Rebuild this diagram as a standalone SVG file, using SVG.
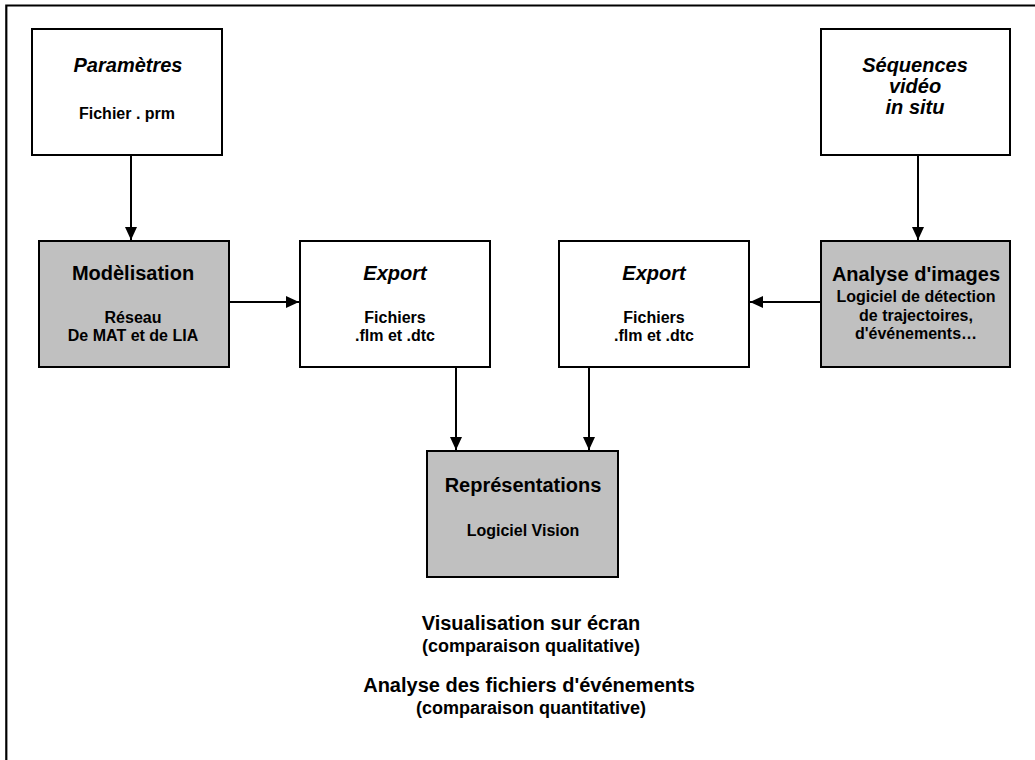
<svg xmlns="http://www.w3.org/2000/svg" width="1035" height="760" viewBox="0 0 1035 760">
<style>
.box{fill:#fff;stroke:#000;stroke-width:2}
.grey{fill:#c0c0c0;stroke:#000;stroke-width:2}
text{font-family:"Liberation Sans",Arial,sans-serif;font-weight:bold;text-anchor:middle;fill:#000}
.t{font-size:20px}
.s{font-size:16px}
.m{font-size:18px}
.i{font-style:italic}
.c{fill:none;stroke:#000;stroke-width:2}
</style>
<defs>
<marker id="ah" markerUnits="userSpaceOnUse" markerWidth="13" markerHeight="12" refX="13" refY="6" orient="auto">
<path d="M0,0 L13,6 L0,12 Z" fill="#000"/>
</marker>
</defs>
<rect width="1035" height="760" fill="#fff"/>
<path d="M6.3,760 V5.5 H1035" fill="none" stroke="#000" stroke-width="2.2"/>

<g id="parametres">
<rect class="box" x="32" y="29" width="190" height="126"/>
<text class="t i" x="128" y="72">Paramètres</text>
<text class="s" x="127" y="119">Fichier . prm</text>
</g>
<g id="sequences">
<rect class="box" x="821" y="29" width="189" height="126"/>
<text class="t i" x="915" y="72">Séquences</text>
<text class="t i" x="915" y="93">vidéo</text>
<text class="t i" x="915" y="114">in situ</text>
</g>
<g id="modelisation">
<rect class="grey" x="39" y="241" width="190" height="126"/>
<text class="t" x="133" y="280">Modèlisation</text>
<text class="s" x="133" y="323">Réseau</text>
<text class="s" x="133" y="341">De MAT et de LIA</text>
</g>
<g id="export1">
<rect class="box" x="300" y="241" width="190" height="126"/>
<text class="t i" x="395" y="280">Export</text>
<text class="s" x="395" y="323">Fichiers</text>
<text class="s" x="395" y="341">.flm et .dtc</text>
</g>
<g id="export2">
<rect class="box" x="559" y="241" width="190" height="126"/>
<text class="t i" x="654" y="280">Export</text>
<text class="s" x="654" y="323">Fichiers</text>
<text class="s" x="654" y="341">.flm et .dtc</text>
</g>
<g id="analyse">
<rect class="grey" x="821" y="241" width="189" height="126"/>
<text class="t" x="916" y="281">Analyse d'images</text>
<text class="s" x="916" y="302">Logiciel de détection</text>
<text class="s" x="916" y="321">de trajectoires,</text>
<text class="s" x="916" y="339">d'événements…</text>
</g>
<g id="representations">
<rect class="grey" x="427" y="451" width="191" height="126"/>
<text class="t" x="523" y="492">Représentations</text>
<text class="s" x="523" y="536">Logiciel Vision</text>
</g>
<g id="bottom-text">
<text class="t" x="531" y="630">Visualisation sur écran</text>
<text class="m" x="531" y="652">(comparaison qualitative)</text>
<text class="t" x="529" y="692">Analyse des fichiers d'événements</text>
<text class="m" x="531" y="714">(comparaison quantitative)</text>
</g>
<g id="connectors">
<line class="c" x1="131" y1="156" x2="131" y2="240" marker-end="url(#ah)"/>
<line class="c" x1="918" y1="156" x2="918" y2="240" marker-end="url(#ah)"/>
<line class="c" x1="230" y1="302" x2="299" y2="302" marker-end="url(#ah)"/>
<line class="c" x1="820" y1="302" x2="750" y2="302" marker-end="url(#ah)"/>
<line class="c" x1="456" y1="368" x2="456" y2="450" marker-end="url(#ah)"/>
<line class="c" x1="589" y1="368" x2="589" y2="450" marker-end="url(#ah)"/>
</g>
</svg>
